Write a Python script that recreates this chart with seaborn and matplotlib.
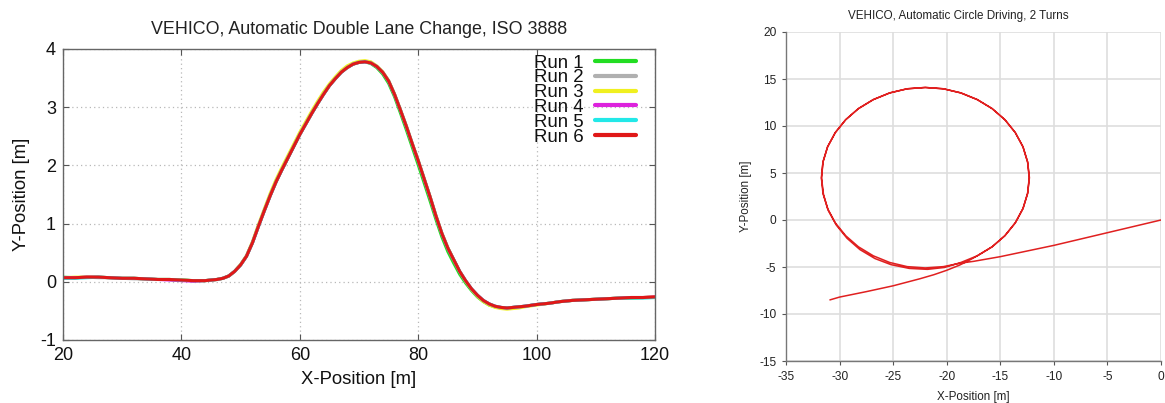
import matplotlib
matplotlib.use("Agg")
import matplotlib.pyplot as plt
import seaborn as sns
import pandas as pd

# ---------------- Left chart data: Double lane change ----------------
x_pos = [20, 22, 24, 26, 28, 30, 32, 34, 36, 38, 40, 42, 44,
         45, 46, 47, 48, 49, 50, 51, 52, 53, 54, 55, 56, 57, 58, 59, 60,
         61, 62, 63, 64, 65, 66, 67, 68, 69, 70, 71, 72, 73, 74, 75, 76,
         77, 78, 79, 80, 81, 82, 83, 84, 85, 86, 87, 88, 89, 90, 91, 92,
         93, 94, 95, 96, 97, 98,
         100, 102, 104, 106, 108, 110, 112, 114, 116, 118, 120]

run1 = [0.08, 0.07, 0.08, 0.08, 0.07, 0.06, 0.06, 0.05, 0.04, 0.04, 0.03, 0.02, 0.02,
        0.03, 0.04, 0.06, 0.10, 0.18, 0.29, 0.44, 0.67, 0.95, 1.22, 1.48, 1.72, 1.93, 2.13, 2.33, 2.53,
        2.71, 2.89, 3.06, 3.22, 3.37, 3.49, 3.60, 3.68, 3.74, 3.77, 3.78, 3.75, 3.68, 3.57, 3.41, 3.18,
        2.90, 2.61, 2.31, 2.01, 1.70, 1.39, 1.07, 0.77, 0.52, 0.32, 0.13, -0.02, -0.15, -0.26, -0.34, -0.40,
        -0.43, -0.45, -0.45, -0.44, -0.43, -0.42,
        -0.39, -0.37, -0.34, -0.32, -0.31, -0.30, -0.29, -0.28, -0.28, -0.27, -0.27]
run2 = [0.07, 0.07, 0.08, 0.07, 0.07, 0.06, 0.05, 0.05, 0.04, 0.04, 0.03, 0.02, 0.02,
        0.03, 0.04, 0.06, 0.10, 0.18, 0.29, 0.44, 0.67, 0.95, 1.22, 1.48, 1.72, 1.93, 2.13, 2.33, 2.53,
        2.71, 2.89, 3.06, 3.22, 3.37, 3.49, 3.60, 3.68, 3.74, 3.77, 3.78, 3.76, 3.70, 3.60, 3.45, 3.22,
        2.95, 2.67, 2.37, 2.08, 1.77, 1.46, 1.13, 0.83, 0.58, 0.38, 0.18, 0.02, -0.12, -0.23, -0.32, -0.38,
        -0.42, -0.44, -0.45, -0.44, -0.43, -0.42,
        -0.39, -0.37, -0.34, -0.32, -0.31, -0.30, -0.29, -0.28, -0.27, -0.27, -0.26]
run3 = [0.07, 0.08, 0.08, 0.08, 0.07, 0.06, 0.06, 0.05, 0.04, 0.04, 0.03, 0.02, 0.02,
        0.03, 0.04, 0.06, 0.10, 0.18, 0.30, 0.45, 0.69, 0.98, 1.25, 1.52, 1.76, 1.97, 2.17, 2.37, 2.57,
        2.75, 2.93, 3.10, 3.26, 3.40, 3.52, 3.63, 3.71, 3.76, 3.79, 3.80, 3.78, 3.71, 3.61, 3.46, 3.23,
        2.96, 2.68, 2.38, 2.09, 1.78, 1.47, 1.14, 0.84, 0.59, 0.38, 0.18, 0.01, -0.13, -0.25, -0.34, -0.40,
        -0.44, -0.46, -0.47, -0.46, -0.45, -0.43,
        -0.40, -0.37, -0.34, -0.32, -0.31, -0.30, -0.29, -0.28, -0.27, -0.27, -0.26]
run4 = [0.07, 0.07, 0.08, 0.08, 0.07, 0.06, 0.06, 0.05, 0.04, 0.03, 0.02, 0.01, 0.02,
        0.03, 0.04, 0.06, 0.10, 0.18, 0.29, 0.44, 0.67, 0.95, 1.22, 1.48, 1.72, 1.93, 2.13, 2.33, 2.53,
        2.71, 2.89, 3.06, 3.22, 3.37, 3.49, 3.60, 3.68, 3.74, 3.77, 3.78, 3.76, 3.70, 3.60, 3.45, 3.22,
        2.95, 2.67, 2.37, 2.08, 1.77, 1.46, 1.13, 0.83, 0.58, 0.38, 0.18, 0.02, -0.12, -0.23, -0.32, -0.38,
        -0.42, -0.44, -0.45, -0.44, -0.43, -0.42,
        -0.39, -0.37, -0.34, -0.32, -0.31, -0.30, -0.29, -0.28, -0.27, -0.27, -0.26]
run5 = [0.06, 0.06, 0.07, 0.08, 0.07, 0.06, 0.06, 0.05, 0.04, 0.04, 0.03, 0.02, 0.02,
        0.03, 0.04, 0.06, 0.10, 0.18, 0.29, 0.44, 0.67, 0.95, 1.22, 1.48, 1.72, 1.93, 2.13, 2.33, 2.53,
        2.71, 2.89, 3.06, 3.22, 3.37, 3.49, 3.60, 3.68, 3.74, 3.77, 3.78, 3.76, 3.70, 3.60, 3.45, 3.22,
        2.95, 2.67, 2.37, 2.08, 1.77, 1.46, 1.13, 0.83, 0.58, 0.38, 0.18, 0.02, -0.12, -0.23, -0.32, -0.38,
        -0.42, -0.44, -0.45, -0.44, -0.43, -0.42,
        -0.39, -0.37, -0.34, -0.32, -0.31, -0.30, -0.29, -0.28, -0.28, -0.28, -0.27]
run6 = [0.07, 0.07, 0.08, 0.08, 0.07, 0.06, 0.06, 0.05, 0.04, 0.04, 0.03, 0.02, 0.02,
        0.03, 0.04, 0.06, 0.10, 0.18, 0.29, 0.44, 0.67, 0.95, 1.22, 1.48, 1.72, 1.93, 2.13, 2.33, 2.53,
        2.71, 2.89, 3.06, 3.22, 3.37, 3.49, 3.60, 3.68, 3.74, 3.77, 3.78, 3.76, 3.70, 3.60, 3.45, 3.22,
        2.95, 2.67, 2.37, 2.08, 1.77, 1.46, 1.13, 0.83, 0.58, 0.38, 0.18, 0.02, -0.12, -0.23, -0.32, -0.38,
        -0.42, -0.44, -0.45, -0.44, -0.43, -0.42,
        -0.39, -0.37, -0.34, -0.32, -0.31, -0.30, -0.29, -0.28, -0.27, -0.27, -0.26]

run_names = ["Run 1", "Run 2", "Run 3", "Run 4", "Run 5", "Run 6"]
run_colors = ["#22dd22", "#b0b0b0", "#f0f020", "#dd22dd", "#22e8e8", "#e01818"]
left_xticks = [20, 40, 60, 80, 100, 120]
left_yticks = [-1, 0, 1, 2, 3, 4]

# ---------------- Right chart data: Circle driving (2 turns) ----------------
circle_x = [0.0, -5.0, -10.0, -15.0, -17.5, -18.68,
            # turn 1
            -20.31, -22.00, -23.69, -25.32, -26.85, -28.24, -29.43, -30.40, -31.12, -31.55,
            -31.70, -31.55, -31.12, -30.40, -29.43, -28.24, -26.85, -25.32, -23.69,
            -22.00, -20.31, -18.68, -17.15, -15.76, -14.57, -13.60, -12.88, -12.45,
            -12.30, -12.45, -12.88, -13.60, -14.57, -15.76, -17.15, -18.68,
            # turn 2
            -20.20, -21.80, -23.50, -25.20, -26.70, -28.10, -29.30, -30.30, -31.05, -31.50,
            -31.68, -31.55, -31.12, -30.40, -29.43, -28.24, -26.85, -25.32, -23.69,
            -22.00, -20.31, -18.68, -17.15, -15.76, -14.57, -13.60, -12.88, -12.45,
            -12.28, -12.45, -12.88, -13.60, -14.57, -15.76, -17.15,
            # exit
            -18.0, -18.8, -20.0, -21.2, -22.5, -25.0, -27.5, -30.0, -30.9]
circle_y = [0.0, -1.35, -2.70, -3.90, -4.40, -4.58,
            # turn 1
            -4.96, -5.10, -4.96, -4.52, -3.81, -2.85, -1.67, -0.30, 1.22, 2.83,
            4.50, 6.17, 7.78, 9.30, 10.67, 11.85, 12.81, 13.52, 13.96,
            14.10, 13.96, 13.52, 12.81, 11.85, 10.67, 9.30, 7.78, 6.17,
            4.50, 2.83, 1.22, -0.30, -1.67, -2.85, -3.81, -4.52,
            # turn 2
            -5.05, -5.25, -5.15, -4.75, -4.10, -3.15, -1.95, -0.55, 1.00, 2.70,
            4.45, 6.17, 7.78, 9.30, 10.67, 11.85, 12.81, 13.52, 13.96,
            14.10, 13.96, 13.52, 12.81, 11.85, 10.67, 9.30, 7.78, 6.17,
            4.50, 2.83, 1.22, -0.30, -1.67, -2.85, -3.81,
            # exit
            -4.35, -4.80, -5.35, -5.82, -6.25, -7.00, -7.62, -8.20, -8.50]
right_xticks = [-35, -30, -25, -20, -15, -10, -5, 0]
right_yticks = [-15, -10, -5, 0, 5, 10, 15, 20]

# ---------------- Build tables ----------------
runs = [run1, run2, run3, run4, run5, run6]
left_df = pd.DataFrame({
    "x": [v for _ in runs for v in x_pos],
    "y": [v for r in runs for v in r],
    "run": [n for n, r in zip(run_names, runs) for _ in r],
})
right_df = pd.DataFrame({"x": circle_x, "y": circle_y})

sns.set_theme(style="white")
plt.rcParams["font.family"] = ["Liberation Sans", "DejaVu Sans"]

fig = plt.figure(figsize=(11.65, 4.03), dpi=100)
ax1 = fig.add_axes([63 / 1165, 1 - 340 / 403, (655 - 63) / 1165, (340 - 49) / 403])
ax2 = fig.add_axes([786 / 1165, 1 - 361 / 403, (1161 - 786) / 1165, (361 - 32) / 403])

# ---- Left chart ----
sns.lineplot(data=left_df, x="x", y="y", hue="run", palette=run_colors,
             hue_order=run_names, linewidth=2.2, ax=ax1, estimator=None, sort=False)
ax1.set_xlim(20, 120)
ax1.set_ylim(-1, 4)
ax1.set_xticks(left_xticks)
ax1.set_yticks(left_yticks)
ax1.set_xticklabels([str(t) for t in left_xticks])
ax1.set_yticklabels([str(t) for t in left_yticks])
ax1.grid(True, linestyle=(0, (1, 2.5)), color="#b8b8b8", linewidth=0.9)
ax1.tick_params(axis="both", direction="in", length=4, width=0.8, color="#555555",
                labelsize=13, labelcolor="#111111", top=True, right=True,
                bottom=True, left=True, pad=5)
for s in ax1.spines.values():
    s.set_color("#666666")
    s.set_linewidth(1.0)
ax1.set_xlabel("X-Position [m]", fontsize=13.3, color="#111111", labelpad=5)
ax1.set_ylabel("Y-Position [m]", fontsize=13.3, color="#111111", labelpad=7)
ax1.set_title("VEHICO, Automatic Double Lane Change, ISO 3888", fontsize=12.9,
              color="#222222", pad=11)
handles, labels = ax1.get_legend_handles_labels()
for h in handles:
    h.set_linewidth(3.0)
leg = ax1.legend(handles, labels, loc="upper right", bbox_to_anchor=(0.977, 1.0),
                 markerfirst=False, frameon=False,
                 fontsize=13.4, labelspacing=-0.12, handlelength=2.2, handletextpad=0.6,
                 borderaxespad=0.3, borderpad=0.0)
for t in leg.get_texts():
    t.set_color("#111111")

# ---- Right chart ----
sns.lineplot(data=right_df, x="x", y="y", sort=False, estimator=None,
             color="#e02020", linewidth=1.1, ax=ax2)
ax2.set_xlim(-35, 0)
ax2.set_ylim(-15, 20)
ax2.set_xticks(right_xticks)
ax2.set_yticks(right_yticks)
ax2.set_xticklabels([str(t) for t in right_xticks])
ax2.set_yticklabels([str(t) for t in right_yticks])
ax2.grid(True, color="#dedede", linewidth=1.2)
ax2.tick_params(axis="both", direction="out", length=3, width=0.8, color="#555555",
                labelsize=8.6, labelcolor="#222222", bottom=True, left=True, pad=4)
for side in ["top", "right"]:
    ax2.spines[side].set_visible(False)
for side in ["left", "bottom"]:
    ax2.spines[side].set_color("#777777")
    ax2.spines[side].set_linewidth(1.0)
ax2.set_xlabel("X-Position [m]", fontsize=8.4, color="#222222", labelpad=6)
ax2.set_ylabel("Y-Position [m]", fontsize=8.4, color="#222222", labelpad=5)
ax2.set_title("VEHICO, Automatic Circle Driving, 2 Turns", fontsize=8.4,
              color="#222222", pad=9, x=0.46)

fig.savefig("out.png", dpi=100)
